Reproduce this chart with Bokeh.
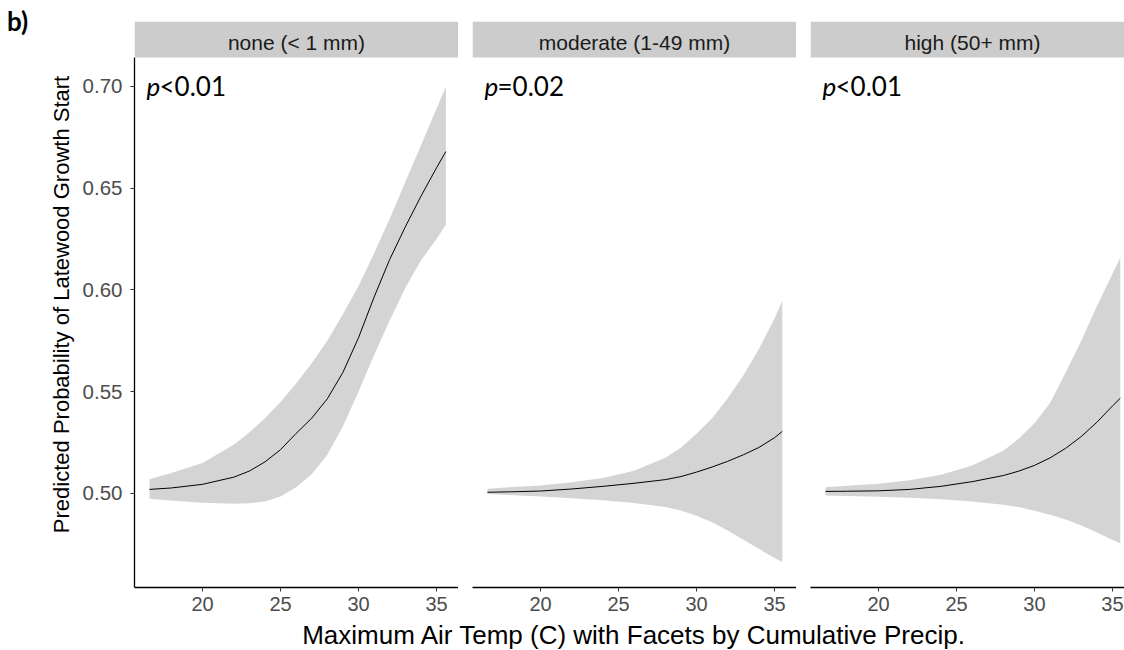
from bokeh.plotting import figure
from bokeh.models import Range1d, FixedTicker, BoxAnnotation, Label, NumeralTickFormatter, Div
from bokeh.layouts import row, column
from bokeh.embed import file_html
from bokeh.resources import INLINE

# ---------------- data ----------------
facets = ["none (< 1 mm)", "moderate (1-49 mm)", "high (50+ mm)"]
p_values = ["<0.01", "=0.02", "<0.01"]

temp_none = [16.6, 18, 20, 22, 23, 24, 25, 26, 27, 28, 29, 30, 31, 32, 33, 34, 35, 35.6]
fit_none = [0.502, 0.5027, 0.5045, 0.508, 0.511, 0.5155, 0.5215, 0.5295, 0.537, 0.5465,
            0.5595, 0.5765, 0.5965, 0.615, 0.631, 0.646, 0.660, 0.668]
upper_none = [0.507, 0.510, 0.515, 0.524, 0.530, 0.537, 0.545, 0.554, 0.564, 0.575,
              0.588, 0.602, 0.618, 0.635, 0.653, 0.671, 0.689, 0.700]
lower_none = [0.4974, 0.4965, 0.4955, 0.4950, 0.4952, 0.4960, 0.4985, 0.503, 0.5095, 0.519,
              0.533, 0.550, 0.568, 0.585, 0.601, 0.6145, 0.625, 0.632]

temp_mod = [16.6, 18, 20, 22, 24, 26, 28, 29, 30, 31, 32, 33, 34, 35, 35.5]
fit_mod = [0.5006, 0.5008, 0.5012, 0.5022, 0.5035, 0.5050, 0.5068, 0.5083, 0.5105,
           0.5130, 0.5158, 0.5190, 0.5226, 0.5274, 0.5305]
upper_mod = [0.5023, 0.5030, 0.5039, 0.5055, 0.5076, 0.5112, 0.5175, 0.5225, 0.5293,
             0.5370, 0.5468, 0.5580, 0.5710, 0.5860, 0.5946]
lower_mod = [0.4998, 0.4992, 0.4985, 0.4977, 0.4967, 0.4953, 0.4933, 0.4916, 0.4890,
             0.4858, 0.4818, 0.4773, 0.4728, 0.4683, 0.4663]

temp_high = [16.6, 18, 20, 22, 24, 26, 28, 29, 30, 31, 32, 33, 34, 35, 35.5]
fit_high = [0.5010, 0.5011, 0.5013, 0.5020, 0.5035, 0.5058, 0.5088, 0.5110, 0.5138,
            0.5175, 0.5222, 0.5280, 0.5350, 0.5430, 0.5468]
upper_high = [0.5031, 0.5038, 0.5048, 0.5065, 0.5092, 0.5137, 0.5210, 0.5270, 0.5345,
              0.5445, 0.5595, 0.5750, 0.5920, 0.6080, 0.6160]
lower_high = [0.4990, 0.4987, 0.4984, 0.4979, 0.4971, 0.4960, 0.4945, 0.4933, 0.4915,
              0.4896, 0.4872, 0.4843, 0.4808, 0.4772, 0.4755]

x_ticks = [20, 25, 30, 35]
y_ticks = [0.50, 0.55, 0.60, 0.65, 0.70]

x_title = "Maximum Air Temp (C) with Facets by Cumulative Precip."
y_title = "Predicted Probability of Latewood Growth Start"
panel_tag = "b)"

series = [
    (temp_none, fit_none, lower_none, upper_none),
    (temp_mod, fit_mod, lower_mod, upper_mod),
    (temp_high, fit_high, lower_high, upper_high),
]

# ---------------- layout constants ----------------
X_START, X_FULL_END = 15.64, 36.41
X_END = [36.41, 36.41, 35.77]
Y_START, Y_END = 0.4538, 0.7319
STRIP_BOTTOM = 0.7142
STRIP_TEXT_Y = 0.7216
P_X, P_Y = 16.41, 0.7004

TAG_W = 40
widths = [458 - TAG_W, 338, 328]
left_borders = [134 - TAG_W, 14, 14]
H = 620

RIBBON = "#d4d4d4"
STRIP = "#cccccc"
TICK_COL = "#4d4d4d"
FONT = "Liberation Sans"

# small column carrying the panel tag "b)"
tag = Div(text=('<div style="position:relative; left:7px; top:6px; font-family:Lato;'
                ' font-weight:bold; font-size:26px; line-height:30px; color:black;">'
                + panel_tag + '</div>'),
          width=TAG_W, height=H, margin=0)

panels = []
for i in range(3):
    xs, fit, lo, hi = series[i]
    p = figure(width=widths[i], height=H,
               x_range=Range1d(X_START, X_END[i]), y_range=Range1d(Y_START, Y_END),
               output_backend="svg", toolbar_location=None,
               x_axis_location="below", y_axis_location=("left" if i == 0 else None),
               min_border_left=left_borders[i], min_border_right=0,
               min_border_top=21, min_border_bottom=33,
               outline_line_color=None, background_fill_color="white",
               border_fill_color="white")
    p.grid.visible = False

    p.varea(x=xs, y1=lo, y2=hi, fill_color=RIBBON, fill_alpha=1.0)
    p.line(x=xs, y=fit, line_color="black", line_width=1)

    # facet strip
    p.add_layout(BoxAnnotation(bottom=STRIP_BOTTOM, fill_color=STRIP, fill_alpha=1.0,
                               line_color=None))
    p.add_layout(Label(x=(X_START + X_FULL_END) / 2, y=STRIP_TEXT_Y, text=facets[i],
                       text_align="center", text_baseline="middle",
                       text_font=FONT, text_font_size="21px", text_color="#1a1a1a"))

    # p-value annotation
    p.add_layout(Label(x=P_X, y=P_Y, text="p", text_font="Lato",
                       text_font_style="italic", text_font_size="26px",
                       text_color="black", text_baseline="alphabetic"))
    p.add_layout(Label(x=P_X, y=P_Y, x_offset=13, text=p_values[i], text_font="Lato",
                       text_font_size="26px", text_color="black",
                       text_baseline="alphabetic"))

    # x axis
    xa = p.xaxis[0]
    xa.ticker = FixedTicker(ticks=x_ticks)
    xa.axis_line_color = "black"
    xa.axis_line_width = 1.3
    xa.major_tick_line_color = "#333333"
    xa.major_tick_out = 4
    xa.major_tick_in = 0
    xa.minor_tick_line_color = None
    xa.major_label_text_font = FONT
    xa.major_label_text_font_size = "20px"
    xa.major_label_text_color = TICK_COL
    xa.major_label_standoff = 5

    if i == 0:
        ya = p.yaxis[0]
        ya.ticker = FixedTicker(ticks=y_ticks)
        ya.formatter = NumeralTickFormatter(format="0.00")
        ya.bounds = (Y_START, STRIP_BOTTOM)
        ya.axis_line_color = "black"
        ya.axis_line_width = 1.3
        ya.major_tick_line_color = "#333333"
        ya.major_tick_out = 4
        ya.major_tick_in = 0
        ya.minor_tick_line_color = None
        ya.major_label_text_font = FONT
        ya.major_label_text_font_size = "20.5px"
        ya.major_label_text_color = TICK_COL
        ya.major_label_standoff = 8
        ya.axis_label = y_title
        ya.axis_label_text_font = FONT
        ya.axis_label_text_font_size = "22px"
        ya.axis_label_text_font_style = "normal"
        ya.axis_label_text_color = "black"
        ya.axis_label_standoff = 6
    panels.append(p)

# x title strip
t = figure(width=1124, height=30, x_range=Range1d(0, 1), y_range=Range1d(0, 1),
           output_backend="svg", toolbar_location=None,
           x_axis_location=None, y_axis_location=None,
           min_border_left=144, min_border_right=0, min_border_top=0, min_border_bottom=0,
           outline_line_color=None, background_fill_color="white",
           border_fill_color="white")
t.grid.visible = False
t.add_layout(Label(x=0.5, y=0.53, text=x_title, text_align="center",
                   text_baseline="middle", text_font=FONT, text_font_size="26px",
                   text_color="black"))

layout = column(row(tag, *panels, spacing=0), t, spacing=0)
open("out.html", "w").write(file_html(layout, INLINE))
